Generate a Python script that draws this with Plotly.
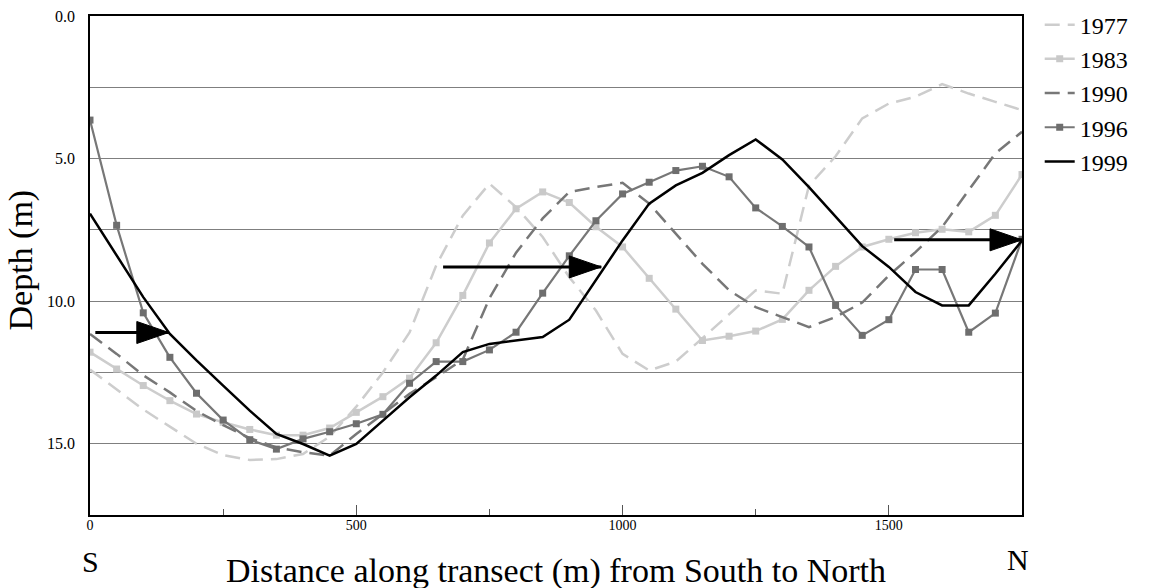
import plotly.graph_objects as go

# Survey stations along the transect (m from the southern end)
distance = [0, 50, 100, 150, 200, 250, 300, 350, 400, 450, 500, 550,
            600, 650, 700, 750, 800, 850, 900, 950, 1000, 1050, 1100, 1150,
            1200, 1250, 1300, 1350, 1400, 1450, 1500, 1550, 1600, 1650, 1700, 1750]

# Water depth (m) at each station, per survey year
depth_1977 = [12.4, 13.1, 13.8, 14.4, 15.0, 15.4, 15.57, 15.54, 15.36, 14.75, 13.7, 12.5,
              11.1, 8.75, 7.0, 5.88, 6.7, 7.75, 9.16, 10.33, 11.85, 12.43, 12.12, 11.3,
              10.45, 9.62, 9.74, 5.95, 4.92, 3.59, 3.07, 2.83, 2.39, 2.72, 3.01, 3.3]
depth_1983 = [11.79, 12.38, 12.96, 13.49, 13.96, 14.25, 14.5, 14.7, 14.7, 14.45, 13.9, 13.35,
              12.7, 11.46, 9.8, 7.96, 6.76, 6.17, 6.54, 7.39, 8.1, 9.2, 10.28, 11.38,
              11.23, 11.05, 10.64, 9.62, 8.78, 8.1, 7.83, 7.6, 7.48, 7.57, 6.99, 5.56]
depth_1990 = [11.15, 11.85, 12.6, 13.2, 13.85, 14.35, 14.8, 15.13, 15.3, 15.42, 14.66, 13.95,
              13.25, 12.67, 12.05, 9.9, 8.3, 7.1, 6.17, 6.0, 5.85, 6.58, 7.63, 8.69,
              9.62, 10.21, 10.56, 10.91, 10.56, 10.05, 9.1, 8.28, 7.4, 6.11, 4.82, 4.06]
depth_1996 = [3.65, 7.34, 10.41, 11.97, 13.23, 14.17, 14.86, 15.19, 14.83, 14.58, 14.3, 13.97,
              12.88, 12.12, 12.12, 11.71, 11.09, 9.72, 8.41, 7.18, 6.24, 5.83, 5.42, 5.27,
              5.64, 6.73, 7.38, 8.10, 10.15, 11.2, 10.65, 8.89, 8.89, 11.09, 10.42, 7.83]
depth_1999 = [6.93, 8.4, 9.86, 11.15, 12.08, 12.96, 13.84, 14.66, 15.01, 15.42, 15.01, 14.19,
              13.37, 12.61, 11.79, 11.5, 11.38, 11.26, 10.65, 9.27, 7.87, 6.58, 5.94, 5.5,
              4.88, 4.33, 5.03, 6.0, 7.05, 8.07, 8.8, 9.68, 10.15, 10.15, 9.04, 7.87]

# Migration arrows (tail station, tip station, depth)
arrow_tail_x = [10, 663, 1510]
arrow_tip_x = [148, 960, 1750]
arrow_depth = [11.1, 8.8, 7.85]

y_tick_vals = [0, 2.5, 5, 7.5, 10, 12.5, 15]
y_tick_text = ["0.0", "", "5.0", "", "10.0", "", "15.0"]
x_tick_vals = [0, 500, 1000, 1500]
x_tick_text = ["0", "500", "1000", "1500"]

SERIF = "Liberation Serif"
LIGHT = "#cdcdcd"
MID = "#777777"
DASH = "15px,8px"

fig = go.Figure()

fig.add_trace(go.Scatter(x=distance, y=depth_1977, name="1977", mode="lines",
                         line=dict(color=LIGHT, width=2.5, dash=DASH)))
fig.add_trace(go.Scatter(x=distance, y=depth_1983, name="1983", mode="lines+markers",
                         line=dict(color=LIGHT, width=2.5),
                         marker=dict(symbol="square", size=7, color="#c9c9c9")))
fig.add_trace(go.Scatter(x=distance, y=depth_1990, name="1990", mode="lines",
                         line=dict(color=MID, width=2.5, dash=DASH)))
fig.add_trace(go.Scatter(x=distance, y=depth_1996, name="1996", mode="lines+markers",
                         line=dict(color=MID, width=2.2),
                         marker=dict(symbol="square", size=7, color="#6e6e6e")))
fig.add_trace(go.Scatter(x=distance, y=depth_1999, name="1999", mode="lines",
                         line=dict(color="black", width=2.5)))

# Arrows: a shaft in data space and a pixel-sized filled head at the tip
for tx, hx, d in zip(arrow_tail_x, arrow_tip_x, arrow_depth):
    fig.add_shape(type="line", xref="x", yref="y", x0=tx, x1=hx, y0=d, y1=d,
                  line=dict(color="black", width=3), layer="above")
    fig.add_shape(type="path", xref="x", yref="y",
                  xsizemode="pixel", ysizemode="pixel", xanchor=hx, yanchor=d,
                  path="M0,0 L-32,11 L-32,-11 Z",
                  fillcolor="black", line=dict(color="black", width=1), layer="above")

fig.add_annotation(text="S", x=0, xref="x", xanchor="center",
                   y=0, yref="paper", yanchor="middle", yshift=-46,
                   showarrow=False, font=dict(family=SERIF, size=30, color="black"))
fig.add_annotation(text="N", x=1750, xref="x", xanchor="center", xshift=-4,
                   y=0, yref="paper", yanchor="middle", yshift=-44,
                   showarrow=False, font=dict(family=SERIF, size=30, color="black"))
fig.add_annotation(text="Distance along transect (m) from South to North",
                   x=0.5, xref="paper", xanchor="center",
                   y=0, yref="paper", yanchor="middle", yshift=-56,
                   showarrow=False, font=dict(family=SERIF, size=34, color="black"))
fig.add_annotation(text="Depth (m)", textangle=-90,
                   x=0, xref="paper", xanchor="center", xshift=-70,
                   y=0.5, yref="paper", yanchor="middle", yshift=5,
                   showarrow=False, font=dict(family=SERIF, size=34, color="black"))

fig.update_layout(
    width=1149, height=588,
    margin=dict(l=90, r=127, t=16, b=73, autoexpand=False),
    paper_bgcolor="white", plot_bgcolor="white",
    font=dict(family=SERIF, color="black"),
    showlegend=True,
    legend=dict(x=1.019, y=1.027, xanchor="left", yanchor="top",
                font=dict(family=SERIF, size=24, color="black"),
                bgcolor="rgba(0,0,0,0)", borderwidth=0, tracegroupgap=0),
    xaxis=dict(range=[0, 1750], showgrid=False, zeroline=False,
               showline=True, linecolor="black", linewidth=1.5, mirror=True,
               tickvals=x_tick_vals, ticktext=x_tick_text,
               ticks="inside", ticklen=10, tickcolor="#555555", tickwidth=1,
               ticklabelstandoff=-4,
               minor=dict(ticks="inside", ticklen=6, tickcolor="#555555",
                          tickvals=[250, 750, 1250]),
               tickfont=dict(family=SERIF, size=14, color="black")),
    yaxis=dict(range=[17.5, 0], showgrid=True, gridcolor="#7f7f7f", gridwidth=1.2,
               zeroline=False, showline=True, linecolor="black", linewidth=1.5, mirror=True,
               tickvals=y_tick_vals, ticktext=y_tick_text, ticks="",
               ticklabelstandoff=10,
               tickfont=dict(family=SERIF, size=16, color="black")),
)

fig.write_html("out.html")
